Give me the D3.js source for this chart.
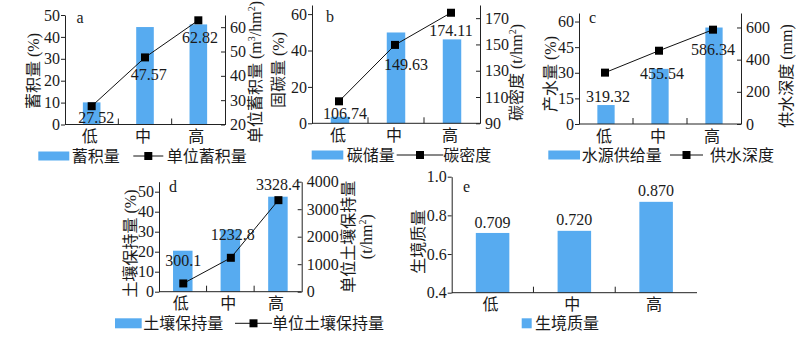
<!DOCTYPE html>
<html><head><meta charset="utf-8">
<script src="https://cdn.jsdelivr.net/npm/d3@7/dist/d3.min.js"></script>
<style>
html,body{margin:0;padding:0;background:#fff;}
svg{display:block;}
text{fill:#1a1a1a;}
</style></head>
<body>
<svg id="chart" width="811" height="339"></svg>
<script>
const categories = ["低", "中", "高"];

const aBars = [10.1, 44.5, 45.7];
const aLine = [27.52, 47.57, 62.82];
const aLeftTicks = [0, 10, 20, 30, 40, 50];
const aRightTicks = [20, 30, 40, 50, 60];

const bBars = [3.6, 49.9, 46.1];
const bLine = [106.74, 149.63, 174.11];
const bLeftTicks = [0, 20, 40, 60];
const bRightTicks = [90, 110, 130, 150, 170];

const cBars = [11.1, 32.3, 56.5];
const cLine = [319.32, 455.54, 586.34];
const cLeftTicks = [0, 15, 30, 45, 60];
const cRightTicks = [0, 200, 400, 600];

const dBars = [20.5, 31.0, 47.5];
const dLine = [300.1, 1232.8, 3328.4];
const dLabels = ["300.1", "1232.8", "3328.4"];
const dLeftTicks = [0, 10, 20, 30, 40, 50];
const dRightTicks = [0, 1000, 2000, 3000, 4000];

const eBars = [0.709, 0.720, 0.870];
const eTicks = [0.4, 0.6, 0.8, 1.0];

const BAR = "#57abf0";
const NUM = "'Liberation Serif','Times New Roman',serif";
const CJK = "'Liberation Serif','Noto Sans CJK SC',serif";

const svg = d3.select("#chart");

function rotTitle(x, y, parts) {
  const t = svg.append("text")
    .attr("transform", `translate(${x},${y}) rotate(-90)`)
    .attr("text-anchor", "middle").attr("dy", "0.35em")
    .style("font-family", CJK).style("font-size", "16px");
  parts.forEach(p => {
    if (typeof p === "string") t.append("tspan").text(p);
    else t.append("tspan").attr("dy", p.sup ? -6 : 6).style("font-size", p.sup ? "10px" : "16px").text(p.t);
  });
  return t;
}

function panel(cfg) {
  const g = svg.append("g");
  const x = d3.scaleBand().domain(categories).range([cfg.x0, cfg.x1]).padding(0);
  const step = x.step();
  const yL = d3.scaleLinear().domain(cfg.leftDomain).range([cfg.yB, cfg.yT]);

  // bars
  g.selectAll("rect.bar").data(cfg.bars).join("rect")
    .attr("x", (d, i) => x(categories[i]) + step * (1 - cfg.barRatio) / 2)
    .attr("width", step * cfg.barRatio)
    .attr("y", d => yL(d))
    .attr("height", d => yL(cfg.leftDomain[0]) - yL(d))
    .attr("fill", BAR);

  // left axis
  const axL = d3.axisLeft(yL).tickValues(cfg.leftTicks).tickSizeInner(4).tickSizeOuter(0).tickPadding(1)
    .tickFormat(cfg.leftFormat || d3.format("d"));
  const gl = g.append("g").attr("transform", `translate(${cfg.x0},0)`).call(axL);
  gl.selectAll("text").style("font-family", NUM).style("font-size", "16px").attr("fill", "#1a1a1a");
  gl.selectAll("line,path").attr("stroke", "#222");

  // x axis
  g.append("line").attr("x1", cfg.x0).attr("x2", cfg.x1).attr("y1", cfg.yB).attr("y2", cfg.yB).attr("stroke", "#222");
  categories.slice(0, -1).forEach(c => {
    const bx = x(c) + step;
    g.append("line").attr("x1", bx).attr("x2", bx).attr("y1", cfg.yB).attr("y2", cfg.yB - 6).attr("stroke", "#222");
  });
  g.selectAll("text.xl").data(categories).join("text")
    .attr("x", d => x(d) + step / 2 - 2).attr("y", cfg.yB + 12).attr("dy", "0.35em")
    .attr("text-anchor", "middle").style("font-family", CJK).style("font-size", "16px").text(d => d);

  // right axis + line
  if (cfg.line) {
    const yR = d3.scaleLinear().domain(cfg.rightDomain).range([cfg.yB, cfg.yT]);
    const axR = d3.axisRight(yR).tickValues(cfg.rightTicks).tickSizeInner(-4).tickSizeOuter(0).tickPadding(5)
      .tickFormat(d3.format("d"));
    const gr = g.append("g").attr("transform", `translate(${cfg.x1},0)`).call(axR);
    gr.selectAll("text").style("font-family", NUM).style("font-size", "16px").attr("fill", "#1a1a1a");
    gr.selectAll("line,path").attr("stroke", "#222");

    const pts = cfg.line.map((v, i) => [x(categories[i]) + step / 2 + cfg.mdx, yR(v)]);
    g.append("path").attr("d", d3.line()(pts)).attr("fill", "none").attr("stroke", "#111").attr("stroke-width", 1);
    g.selectAll("rect.mk").data(pts).join("rect")
      .attr("x", d => d[0] - 4).attr("y", d => d[1] - 4).attr("width", 8).attr("height", 8).attr("fill", "#000");
    g.selectAll("text.vl").data(cfg.line).join("text")
      .attr("x", (d, i) => pts[i][0] + cfg.lblOff[i][0])
      .attr("y", (d, i) => pts[i][1] + cfg.lblOff[i][1])
      .attr("dy", "0.35em").attr("text-anchor", "middle")
      .style("font-family", NUM).style("font-size", "16px")
      .text((d, i) => cfg.lineLabels ? cfg.lineLabels[i] : d3.format(".2f")(d));
  } else {
    g.selectAll("text.vl").data(cfg.bars).join("text")
      .attr("x", (d, i) => x(categories[i]) + step / 2)
      .attr("y", d => yL(d) - 11).attr("dy", "0.35em").attr("text-anchor", "middle")
      .style("font-family", NUM).style("font-size", "16px").text(d => d3.format(".3f")(d));
  }

  // panel letter
  svg.append("text").attr("x", cfg.letter[1]).attr("y", cfg.letter[2]).attr("dy", "0.35em")
    .style("font-family", NUM).style("font-size", "16px").text(cfg.letter[0]);
}

function legend(ly, swX, swW, swH, txt1, tx1, lineX0, lineX1, txt2, tx2) {
  svg.append("rect").attr("x", swX).attr("y", ly - swH / 2).attr("width", swW).attr("height", swH).attr("fill", BAR);
  svg.append("text").attr("x", tx1).attr("y", ly).attr("dy", "0.35em")
    .style("font-family", CJK).style("font-size", "16px").text(txt1);
  if (txt2) {
    svg.append("line").attr("x1", lineX0).attr("x2", lineX1).attr("y1", ly).attr("y2", ly).attr("stroke", "#111");
    const mx = (lineX0 + lineX1) / 2;
    svg.append("rect").attr("x", mx - 4).attr("y", ly - 4).attr("width", 8).attr("height", 8).attr("fill", "#000");
    svg.append("text").attr("x", tx2).attr("y", ly).attr("dy", "0.35em")
      .style("font-family", CJK).style("font-size", "16px").text(txt2);
  }
}

// Panel a
panel({x0: 65, x1: 225, yT: 15, yB: 124.5, leftDomain: [0, 50], rightDomain: [20, 65],
  bars: aBars, line: aLine, leftTicks: aLeftTicks, rightTicks: aRightTicks, barRatio: 0.33, mdx: 0,
  lblOff: [[4.6, 11.6], [3.8, 17.3], [1.7, 17]], letter: ["a", 76.5, 17]});
rotTitle(33, 71, ["蓄积量 (%)"]);
rotTitle(255, 72, ["单位蓄积量 (m", {t: "3", sup: true}, {t: "/hm"}, {t: "2", sup: true}, {t: ")"}]);
legend(156, 38.3, 31, 9, "蓄积量", 71.7, 133.3, 163.3, "单位蓄积量", 166.7);

// Panel b
panel({x0: 312, x1: 480, yT: 5, yB: 123.3, leftDomain: [0, 65], rightDomain: [90, 180],
  bars: bBars, line: bLine, leftTicks: bLeftTicks, rightTicks: bRightTicks, barRatio: 0.33, mdx: -1,
  lblOff: [[6, 12.6], [11, 19], [0, 18]], letter: ["b", 326, 16]});
rotTitle(278.3, 70, ["固碳量 (%)"]);
rotTitle(516.7, 72.5, ["碳密度 (t/hm", {t: "2", sup: true}, {t: ")"}]);
legend(155, 311.7, 31.6, 9, "碳储量", 346.7, 396.7, 443.3, "碳密度", 443.3);

// Panel c
panel({x0: 579, x1: 741, yT: 13, yB: 124, leftDomain: [0, 65], rightDomain: [0, 690],
  bars: cBars, line: cLine, leftTicks: cLeftTicks, rightTicks: cRightTicks, barRatio: 0.32, mdx: -1,
  lblOff: [[3, 24], [3, 22.7], [0, 20]], letter: ["c", 589, 17]});
rotTitle(550, 74, ["产水量 (%)"]);
rotTitle(786.7, 76, ["供水深度 (mm)"]);
legend(155, 548.3, 31.7, 9, "水源供给量", 581.7, 670, 703, "供水深度", 710);

// Panel d
panel({x0: 159, x1: 301.7, yT: 181.7, yB: 291.7, leftDomain: [0, 55], rightDomain: [0, 4000],
  bars: dBars, line: dLine, lineLabels: dLabels, leftTicks: dLeftTicks, rightTicks: dRightTicks, barRatio: 0.41, mdx: 0.5,
  lblOff: [[0, -23], [2, -23], [-0.5, -16]], letter: ["d", 169, 186.7]});
rotTitle(130, 243.5, ["土壤保持量 (%)"]);
rotTitle(348.3, 236.7, ["单位土壤保持量"]);
rotTitle(366.7, 236.7, ["(t/hm", {t: "2", sup: true}, {t: ")"}]);
legend(323.3, 115, 26.7, 10, "土壤保持量", 143.3, 235, 272, "单位土壤保持量", 272);

// Panel e
panel({x0: 451.7, x1: 697, yT: 176.7, yB: 292.7, leftDomain: [0.4, 1.0],
  bars: eBars, leftTicks: eTicks, leftFormat: d3.format(".1f"), barRatio: 0.41, letter: ["e", 463, 186.7]});
rotTitle(418.3, 241.7, ["生境质量"]);
legend(323.3, 521.7, 10, 10, "生境质量", 535);
</script>
</body></html>
